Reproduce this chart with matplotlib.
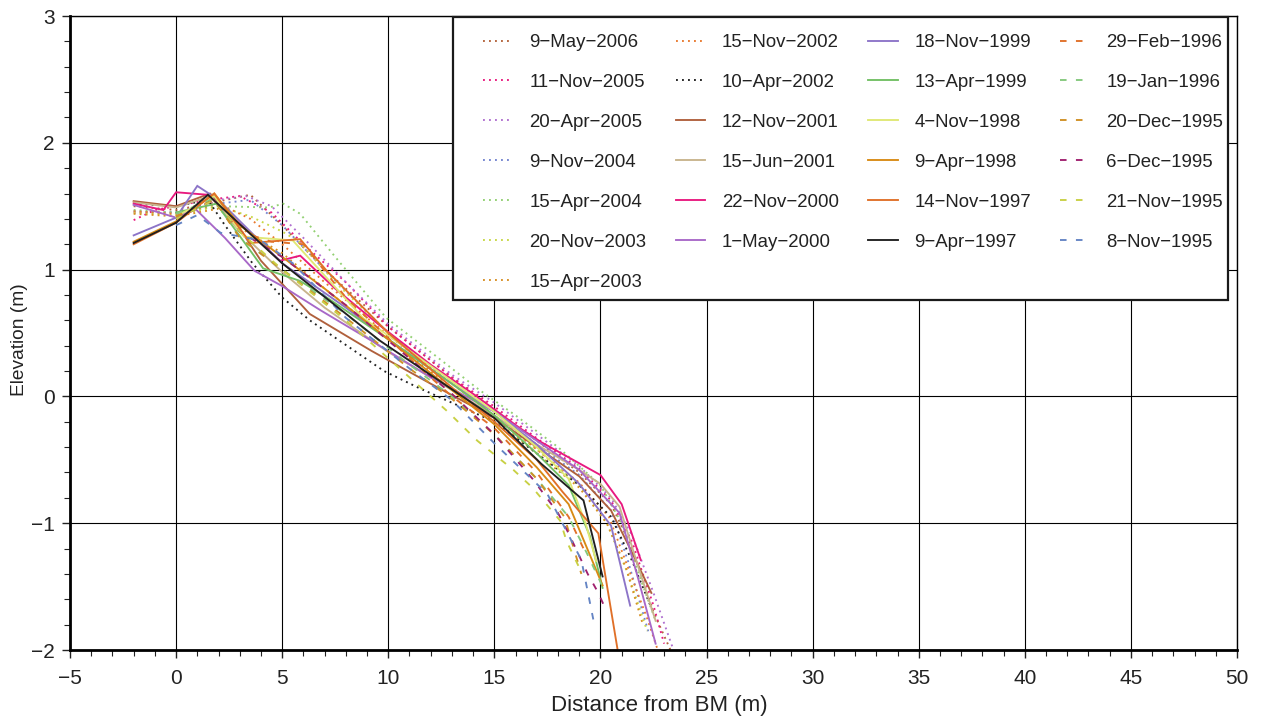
import matplotlib
matplotlib.use("Agg")
import matplotlib.pyplot as plt
from matplotlib.patches import Rectangle
from matplotlib.ticker import MultipleLocator

plt.rcParams['font.family'] = ['Liberation Sans', 'DejaVu Sans']

labels = ["9-May-2006", "11-Nov-2005", "20-Apr-2005", "9-Nov-2004", "15-Apr-2004",
          "20-Nov-2003", "15-Apr-2003", "15-Nov-2002", "10-Apr-2002", "12-Nov-2001",
          "15-Jun-2001", "22-Nov-2000", "1-May-2000", "18-Nov-1999", "13-Apr-1999",
          "4-Nov-1998", "9-Apr-1998", "14-Nov-1997", "9-Apr-1997", "29-Feb-1996",
          "19-Jan-1996", "20-Dec-1995", "6-Dec-1995", "21-Nov-1995", "8-Nov-1995"]

colors = ["#b4643c", "#e8197f", "#b070d0", "#7484d0", "#92d072",
          "#c8d846", "#d89024", "#e87a30", "#202020", "#b0603c",
          "#c8b48c", "#e8197f", "#a868c8", "#8c74c8", "#72c064",
          "#e0e874", "#d88a14", "#e07028", "#202020", "#e07028",
          "#84c87c", "#d09024", "#a0206e", "#c8d044", "#6484c4"]

styles = ["dot"] * 9 + ["solid"] * 10 + ["dash"] * 6

x_9May2006 = [-2, 0, 1.5, 3.5, 5, 7, 10, 13, 15, 17, 19, 20.5, 21.5, 22.5, 23.3]
y_9May2006 = [1.50, 1.47, 1.52, 1.59, 1.35, 1.0, 0.55, 0.15, -0.1, -0.35, -0.6, -0.85, -1.2, -1.7, -2.0]
x_11Nov2005 = [-2, -1, 0, 1.5, 3, 4.5, 6, 8, 10, 13, 15, 17, 19, 20.5, 21.5, 22.5, 23.0]
y_11Nov2005 = [1.39, 1.47, 1.50, 1.55, 1.58, 1.45, 1.2, 0.9, 0.55, 0.15, -0.08, -0.33, -0.57, -0.82, -1.15, -1.65, -1.95]
x_20Apr2005 = [-2, 0, 2, 3.3, 4.5, 6, 8, 10, 13, 15, 17, 19, 20.5, 21.5, 22.5, 23.4]
y_20Apr2005 = [1.45, 1.45, 1.55, 1.58, 1.5, 1.25, 0.9, 0.57, 0.17, -0.05, -0.3, -0.55, -0.8, -1.1, -1.55, -1.98]
x_9Nov2004 = [-2, 0, 2, 3.5, 5, 7, 10, 13, 15, 17, 19, 20.5, 21.3, 22.3]
y_9Nov2004 = [1.46, 1.45, 1.52, 1.55, 1.35, 1.0, 0.5, 0.12, -0.12, -0.38, -0.62, -0.9, -1.3, -1.88]
x_15Apr2004 = [-2, 0, 2, 4.4, 5.05, 5.85, 7.5, 9.9, 12, 14.3, 16, 18, 20, 21, 21.8, 22.6]
y_15Apr2004 = [1.47, 1.45, 1.5, 1.49, 1.52, 1.44, 1.1, 0.62, 0.35, 0.05, -0.15, -0.4, -0.7, -1.0, -1.4, -1.77]
x_20Nov2003 = [-2, 0, 2, 3.5, 5, 5.8, 7.5, 10, 13, 15, 17, 19, 20.3, 21.3, 22.2]
y_20Nov2003 = [1.45, 1.43, 1.5, 1.42, 1.3, 1.22, 0.9, 0.5, 0.1, -0.15, -0.42, -0.7, -1.0, -1.4, -1.85]
x_15Apr2003 = [-2, 0, 2, 3.3, 5, 7, 10, 13, 15, 17, 19, 20.3, 21.2, 22.0]
y_15Apr2003 = [1.44, 1.42, 1.48, 1.3, 1.13, 0.85, 0.45, 0.07, -0.18, -0.45, -0.72, -1.0, -1.35, -1.8]
x_15Nov2002 = [-2, 0, 2, 3.5, 5, 7, 10, 13, 15, 17, 19, 20.4, 21.3, 22.2, 22.7]
y_15Nov2002 = [1.46, 1.44, 1.52, 1.4, 1.2, 0.9, 0.48, 0.1, -0.15, -0.42, -0.68, -0.95, -1.35, -1.75, -2.0]
x_10Apr2002 = [-2, 0, 1.5, 2.3, 3.6, 5, 6.3, 9.8, 11.4, 15, 17, 19, 20.5, 21.5, 22.5]
y_10Apr2002 = [1.52, 1.5, 1.55, 1.35, 1.05, 0.78, 0.6, 0.2, 0.07, -0.2, -0.45, -0.7, -0.95, -1.3, -1.71]
x_12Nov2001 = [-2, 0, 1.6, 2.5, 4, 6.3, 9.2, 12, 15, 17, 19, 20.5, 21.4, 22.4]
y_12Nov2001 = [1.54, 1.5, 1.6, 1.45, 1.07, 0.65, 0.36, 0.1, -0.17, -0.4, -0.63, -0.9, -1.2, -1.55]
x_15Jun2001 = [-2, 0, 1.6, 3, 5, 7, 10, 13, 15, 17, 19, 20, 20.9, 21.7, 22.6]
y_15Jun2001 = [1.53, 1.49, 1.58, 1.3, 0.98, 0.7, 0.35, 0.05, -0.15, -0.38, -0.58, -0.69, -0.87, -1.3, -1.77]
x_22Nov2000 = [-2, -0.6, 0, 1.5, 3, 4.9, 5.85, 7.5, 9.6, 12, 14, 16.2, 17.2, 20, 21, 21.9]
y_22Nov2000 = [1.52, 1.47, 1.61, 1.59, 1.36, 1.07, 1.11, 0.85, 0.56, 0.25, 0.02, -0.25, -0.36, -0.62, -0.85, -1.29]
x_1May2000 = [-2, 0, 0.9, 2.3, 3.7, 5, 6.8, 9.2, 12, 15, 17, 19, 20.9, 21.8, 22.6]
y_1May2000 = [1.51, 1.41, 1.48, 1.25, 0.99, 0.87, 0.68, 0.44, 0.15, -0.12, -0.35, -0.58, -0.92, -1.45, -1.95]
x_18Nov1999 = [-2, 0, 1, 2, 5, 8, 10, 13, 15, 17, 19, 20.5, 21.4]
y_18Nov1999 = [1.27, 1.41, 1.66, 1.55, 1.05, 0.7, 0.45, 0.1, -0.12, -0.38, -0.69, -1.02, -1.65]
x_13Apr1999 = [0, 1.9, 4.1, 5.85, 7.1, 10, 13, 15, 17, 18.5, 19.5, 20.1]
y_13Apr1999 = [1.45, 1.52, 1.01, 0.91, 0.78, 0.45, 0.1, -0.15, -0.45, -0.7, -1.1, -1.51]
x_4Nov1998 = [0, 1.8, 3.2, 5.5, 8.8, 10, 13, 15, 17, 18.5, 19.3, 19.8]
y_4Nov1998 = [1.42, 1.58, 1.26, 1.23, 0.62, 0.48, 0.12, -0.12, -0.4, -0.65, -1.0, -1.3]
x_9Apr1998 = [-2, 0, 1.8, 3, 5, 7, 10, 13, 15, 17, 18.5, 20.1]
y_9Apr1998 = [1.22, 1.38, 1.6, 1.35, 1.1, 0.85, 0.45, 0.05, -0.22, -0.56, -0.85, -1.49]
x_14Nov1997 = [-2, 0, 1.8, 3.5, 5.85, 7.1, 10, 13, 15, 17, 18.2, 19.9, 20.8]
y_14Nov1997 = [1.2, 1.37, 1.6, 1.21, 1.24, 0.99, 0.5, 0.07, -0.2, -0.5, -0.75, -1.08, -1.99]
x_9Apr1997 = [-2, 0, 1.5, 5, 9.6, 15, 17.2, 19.2, 20.1]
y_9Apr1997 = [1.21, 1.37, 1.59, 1.05, 0.44, -0.17, -0.53, -0.82, -1.42]
x_29Feb1996 = [0, 1.8, 3, 4.5, 6, 8, 11, 13, 15, 17, 18.5, 19.2]
y_29Feb1996 = [1.42, 1.55, 1.3, 1.22, 1.2, 0.78, 0.3, 0.0, -0.25, -0.6, -0.95, -1.2]
x_19Jan1996 = [0, 1.8, 3, 5, 8, 11, 13, 15, 17, 18.5, 19.4, 20.1]
y_19Jan1996 = [1.44, 1.56, 1.25, 1.0, 0.65, 0.25, 0.0, -0.3, -0.65, -0.95, -1.25, -1.5]
x_20Dec1995 = [0, 1.8, 3, 5, 8, 11, 13, 15, 17, 18.3, 19.1]
y_20Dec1995 = [1.42, 1.55, 1.25, 1.0, 0.62, 0.22, -0.02, -0.3, -0.65, -0.95, -1.4]
x_6Dec1995 = [0, 1.8, 3, 5, 8, 11, 13, 15, 16.8, 18, 18.5, 19.4, 19.9, 20.3]
y_6Dec1995 = [1.4, 1.55, 1.3, 1.1, 0.72, 0.3, 0.02, -0.3, -0.65, -0.92, -1.08, -1.4, -1.55, -1.7]
x_21Nov1995 = [0, 1.8, 3, 5, 8, 11, 12.8, 14.2, 15.9, 16.8, 18.1, 18.4, 19.0]
y_21Nov1995 = [1.4, 1.55, 1.3, 1.0, 0.6, 0.15, -0.12, -0.35, -0.58, -0.72, -0.98, -1.14, -1.35]
x_8Nov1995 = [0, 1, 2.1, 4, 5.5, 8, 11, 13, 15, 17.5, 19.1, 19.7]
y_8Nov1995 = [1.35, 1.43, 1.29, 1.23, 1.05, 0.62, 0.22, -0.03, -0.37, -0.77, -1.29, -1.79]

xs = [x_9May2006, x_11Nov2005, x_20Apr2005, x_9Nov2004, x_15Apr2004, x_20Nov2003,
      x_15Apr2003, x_15Nov2002, x_10Apr2002, x_12Nov2001, x_15Jun2001, x_22Nov2000,
      x_1May2000, x_18Nov1999, x_13Apr1999, x_4Nov1998, x_9Apr1998, x_14Nov1997,
      x_9Apr1997, x_29Feb1996, x_19Jan1996, x_20Dec1995, x_6Dec1995, x_21Nov1995, x_8Nov1995]
ys = [y_9May2006, y_11Nov2005, y_20Apr2005, y_9Nov2004, y_15Apr2004, y_20Nov2003,
      y_15Apr2003, y_15Nov2002, y_10Apr2002, y_12Nov2001, y_15Jun2001, y_22Nov2000,
      y_1May2000, y_18Nov1999, y_13Apr1999, y_4Nov1998, y_9Apr1998, y_14Nov1997,
      y_9Apr1997, y_29Feb1996, y_19Jan1996, y_20Dec1995, y_6Dec1995, y_21Nov1995, y_8Nov1995]

W, H = 1268, 724
fig = plt.figure(figsize=(W / 100, H / 100), dpi=100)
ax = fig.add_axes([70 / W, 1 - 650 / H, (1237 - 70) / W, (650 - 16) / H])

ls_map = {"dot": (0, (1, 2.2)), "solid": "-", "dash": (0, (3.5, 5))}
handles = []
for x, y, c, s, lab in zip(xs, ys, colors, styles, labels):
    z = 3 if lab == "9-Apr-1997" else 2
    h, = ax.plot(x, y, color=c, lw=1.35, linestyle=ls_map[s], label=lab.replace("-", "\u2212"),
                 solid_joinstyle='miter', zorder=z)
    handles.append(h)

ax.set_xlim(-5, 50)
ax.set_ylim(-2, 3)
ax.xaxis.set_major_locator(MultipleLocator(5))
ax.xaxis.set_minor_locator(MultipleLocator(1))
ax.yaxis.set_major_locator(MultipleLocator(1))
ax.yaxis.set_minor_locator(MultipleLocator(0.2))
ax.grid(True, which='major', color='black', lw=0.8)
ax.set_axisbelow(True)
ax.tick_params(which='both', direction='out', top=False, right=False, colors='#222222',
               labelsize=15)
ax.tick_params(which='major', length=6, width=1, pad=5)
ax.tick_params(axis='x', which='major', pad=8)
ax.tick_params(which='minor', length=4, width=0.8)
for side in ['left', 'bottom']:
    ax.spines[side].set_linewidth(2.0)
for side in ['top', 'right']:
    ax.spines[side].set_linewidth(1.0)
ax.set_xlabel("Distance from BM (m)", fontsize=16, color='#222222')
ax.set_ylabel("Elevation (m)", fontsize=13.8, color='#222222')
ax.xaxis.set_label_coords((659 - 70) / 1167, -45 / 634)
ax.yaxis.set_label_coords(-42 / 1167, (650 - 340) / 634)

leg = fig.legend(handles=handles, ncol=4, loc='upper left',
                 bbox_to_anchor=(483 / W, 1 - 34 / H), frameon=False,
                 fontsize=13.4, handlelength=1.6, handletextpad=0.9,
                 columnspacing=1.55, labelspacing=1.23, borderpad=0, borderaxespad=0)
for t in leg.get_texts():
    t.set_color('#222222')

fig.patches.append(Rectangle((453 / W, 1 - 300 / H), (1228 - 453) / W, (300 - 17) / H,
                             transform=fig.transFigure, fill=True, facecolor='white',
                             edgecolor='#1a1a1a', lw=1.6, zorder=2))
leg.set_zorder(3)

fig.savefig("out.png", dpi=100)
